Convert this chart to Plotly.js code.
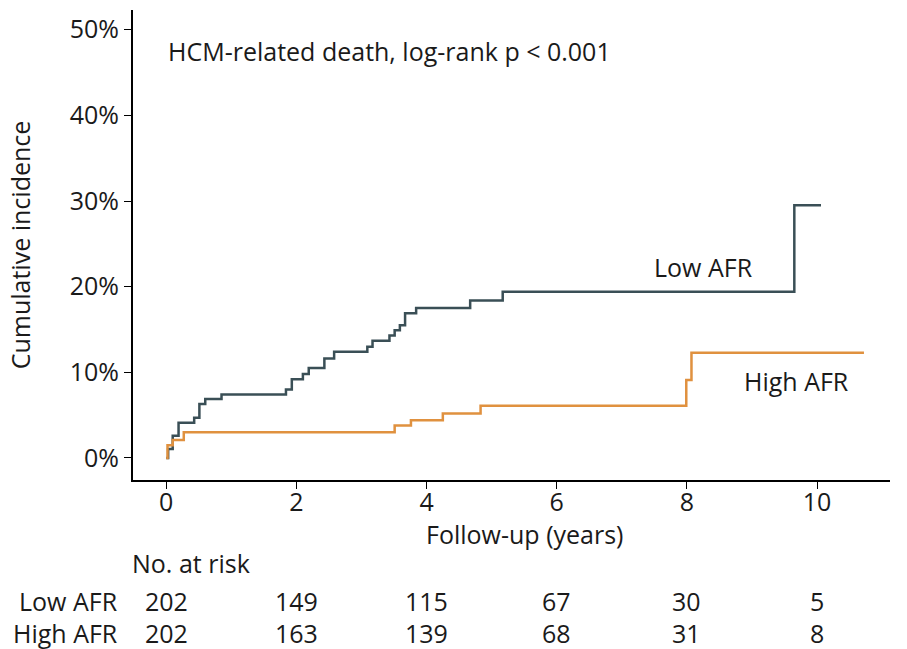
<!DOCTYPE html>
<html>
<head>
<meta charset="utf-8">
<script src="https://cdn.plot.ly/plotly-3.0.1.min.js"></script>
<style>html,body{margin:0;padding:0;background:#fff;}#chart{width:907px;height:649px;}</style>
</head>
<body>
<div id="chart"></div>
<script>
const lowTime = [0, 0.03, 0.1, 0.19, 0.43, 0.51, 0.6, 0.85, 1.84, 1.93, 2.1, 2.19, 2.43, 2.58, 3.09, 3.17, 3.43, 3.51, 3.59, 3.67, 3.84, 4.67, 5.17, 9.65, 10.06];
const lowInc = [0, 1.05, 2.6, 4.1, 4.7, 6.3, 6.9, 7.4, 8.0, 9.2, 9.8, 10.5, 11.6, 12.4, 13.0, 13.7, 14.3, 14.9, 15.5, 16.9, 17.5, 18.4, 19.4, 29.5, 29.5];
const highTime = [0, 0.02, 0.1, 0.27, 3.51, 3.76, 4.25, 4.83, 7.99, 8.07, 10.72];
const highInc = [0, 1.5, 2.1, 3.0, 3.8, 4.4, 5.2, 6.1, 9.1, 12.3, 12.3];
const riskTimes = [0, 2, 4, 6, 8, 10];
const lowRisk = [202, 149, 115, 67, 30, 5];
const highRisk = [202, 163, 139, 68, 31, 8];
const yTicks = [0, 10, 20, 30, 40, 50];
const yTickText = ["0%", "10%", "20%", "30%", "40%", "50%"];

const FONT = "'Open Sans', Lato, sans-serif";
const TXT = "#1a1a1a";
const FS = 25;

const traces = [
  {x: lowTime, y: lowInc, mode: "lines", line: {shape: "hv", color: "#3a4f56", width: 2.5}, name: "Low AFR", hoverinfo: "skip"},
  {x: highTime, y: highInc, mode: "lines", line: {shape: "hv", color: "#e0913f", width: 2.5}, name: "High AFR", hoverinfo: "skip"}
];

function py(pix){ return (480 - pix) / 470; }
const ann = [
  {x: 0, y: 47.5, xref: "x", yref: "y", text: "HCM-related death, log-rank p < 0.001", showarrow: false, xanchor: "left", yanchor: "middle", font: {size: FS, family: FONT, color: TXT}},
  {x: 8.25, y: 22.3, xref: "x", yref: "y", text: "Low AFR", showarrow: false, xanchor: "center", yanchor: "middle", font: {size: FS, family: FONT, color: TXT}},
  {x: 9.68, y: 9.0, xref: "x", yref: "y", text: "High AFR", showarrow: false, xanchor: "center", yanchor: "middle", font: {size: FS, family: FONT, color: TXT}},
  {x: 5.5, y: py(534), xref: "x", yref: "paper", text: "Follow-up (years)", showarrow: false, xanchor: "center", yanchor: "middle", font: {size: FS, family: FONT, color: TXT}},
  {x: 0, y: py(563), xref: "paper", yref: "paper", xshift: -3, text: "No. at risk", showarrow: false, xanchor: "left", yanchor: "middle", font: {size: FS, family: FONT, color: TXT}}
];
const rowY = [601, 633];
const rowNames = ["Low AFR", "High AFR"];
const rows = [lowRisk, highRisk];
rows.forEach((r, i) => {
  ann.push({x: 0, y: py(rowY[i]), xref: "paper", yref: "paper", xshift: -13, text: rowNames[i], showarrow: false, xanchor: "right", yanchor: "middle", font: {size: FS, family: FONT, color: TXT}});
  r.forEach((v, j) => {
    ann.push({x: riskTimes[j], y: py(rowY[i]), xref: "x", yref: "paper", text: String(v), showarrow: false, xanchor: "center", yanchor: "middle", font: {size: FS, family: FONT, color: TXT}});
  });
});

const layout = {
  width: 907, height: 649,
  margin: {l: 133, r: 17, t: 10, b: 169},
  paper_bgcolor: "#fff", plot_bgcolor: "#fff",
  showlegend: false,
  font: {family: FONT, color: TXT, size: 20},
  xaxis: {
    range: [-0.51, 11.12], tickvals: riskTimes, ticktext: riskTimes.map(String),
    showgrid: false, zeroline: false, showline: true, linecolor: "#000", linewidth: 2,
    ticks: "outside", ticklen: 7, tickwidth: 1, tickcolor: "#000",
    ticklabelstandoff: -8,
    tickfont: {size: FS, family: FONT, color: TXT}
  },
  yaxis: {
    range: [-2.57, 52.3], tickvals: yTicks, ticktext: yTickText,
    showgrid: false, zeroline: false, showline: true, linecolor: "#000", linewidth: 2,
    ticks: "outside", ticklen: 7, tickwidth: 1, tickcolor: "#000",
    tickfont: {size: FS, family: FONT, color: TXT},
    title: {text: "Cumulative incidence", font: {size: FS, family: FONT, color: TXT}, standoff: 32}
  },
  annotations: ann
};
Plotly.newPlot("chart", traces, layout, {staticPlot: true, displayModeBar: false});
</script>
</body>
</html>
